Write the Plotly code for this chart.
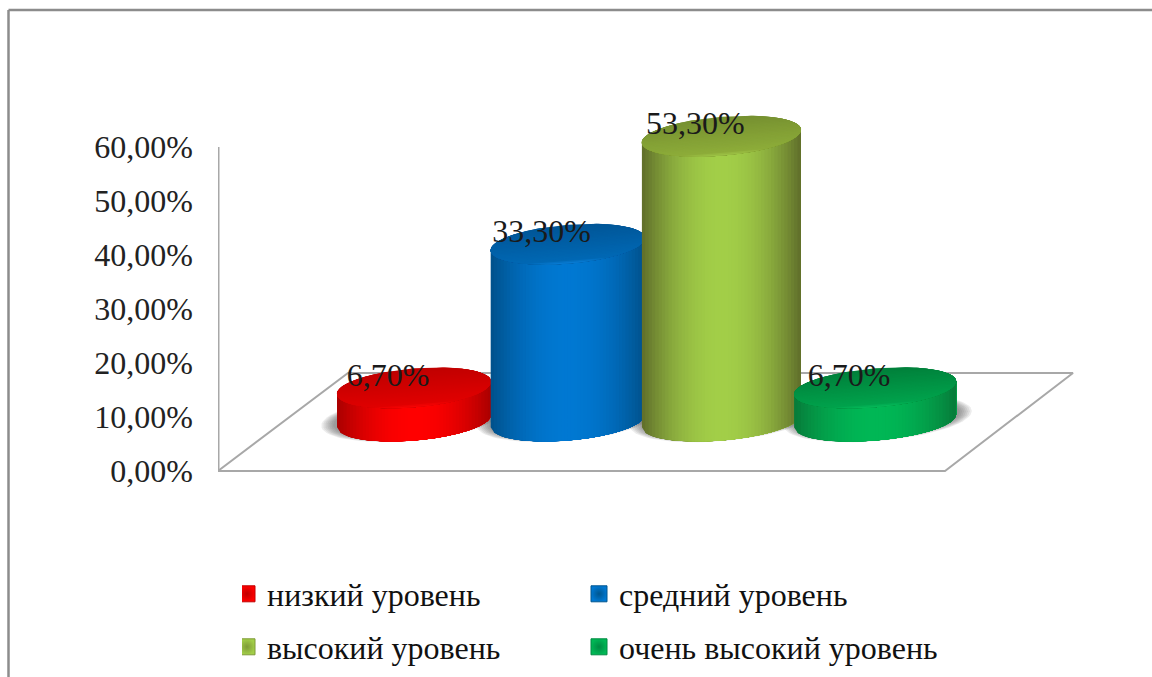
import numpy as np
import plotly.graph_objects as go

# ---- chart data ----
categories = ["низкий уровень", "средний уровень", "высокий уровень", "очень высокий уровень"]
values = [6.7, 33.3, 53.3, 6.7]
value_labels = ["6,70%", "33,30%", "53,30%", "6,70%"]
tick_values = [0, 10, 20, 30, 40, 50, 60]
tick_labels = ["0,00%", "10,00%", "20,00%", "30,00%", "40,00%", "50,00%", "60,00%"]

# ---- styles ----
edge_colors = ["#a80000", "#00508a", "#5f6d2a", "#077a39"]
mid_colors = ["#ff0000", "#0078d2", "#a2ce48", "#00b755"]
cap_dark = ["#bf0000", "#005596", "#758f30", "#007f3a"]
cap_light = ["#e00000", "#0068b4", "#8dac39", "#00a24c"]
cap_rim = ["#fa0505", "#0a7fd8", "#a0c848", "#06bb5a"]

# ---- pseudo-3D geometry ----
W, H = 1152, 677
LEFT = 218
PX = 5.4                       # pixels per percentage point
BASE_PX = 471                  # pixel row of 0 %
DEPTH = 47 / PX                # cap offset behind the front floor edge
BASE_DEPTH = 50 / PX           # base offset behind the front floor edge
CENTER0, STEP = 196, 153.7     # x positions along the floor
HALF = [77, 77, 79.5, 81]      # half width of each cylinder
MINOR = 19.5                   # half height of ellipses, px
TILT = 0.08
AX = "#a8a8a8"


def mix(c1, c2, t):
    a = [int(c1[i:i + 2], 16) for i in (1, 3, 5)]
    b = [int(c2[i:i + 2], 16) for i in (1, 3, 5)]
    return "rgb(%d,%d,%d)" % tuple(round(a[k] + (b[k] - a[k]) * t) for k in range(3))


fig = go.Figure()


def poly(x, y, color):
    fig.add_trace(go.Scatter(x=list(x), y=list(y), mode="lines", fill="toself", fillcolor=color,
                             line=dict(width=0), hoverinfo="skip", showlegend=False))


def ellipse(cx, v, a, b, color):
    t = np.linspace(0, 2 * np.pi, 73)
    dx = a * np.cos(t)
    dy = b * np.sin(t) - TILT * dx
    fig.add_trace(go.Scatter(x=cx + dx, y=v - dy / PX, mode="lines", fill="toself", fillcolor=color,
                             line=dict(width=0), hoverinfo="skip", showlegend=False))


# floor and value axis
floor_x = [0, 727, 855, 130, 0]
floor_v = [0, 0, (BASE_PX - 373) / PX, (BASE_PX - 373) / PX, 0]
fig.add_trace(go.Scatter(x=floor_x, y=floor_v, mode="lines", line=dict(color=AX, width=2),
                         hoverinfo="skip", showlegend=False, cliponaxis=False))
fig.add_trace(go.Scatter(x=[0.5, 0.5], y=[tick_values[0], tick_values[-1]], mode="lines",
                         line=dict(color=AX, width=2), hoverinfo="skip", showlegend=False, cliponaxis=False))

centers = [CENTER0 + i * STEP for i in range(len(values))]

# soft shadows
for cx, a in zip(centers, HALF):
    for k in range(7):
        ellipse(cx + (cx - 426) * 0.012, BASE_DEPTH + 2.5 / PX, a + 13 - 2 * k, MINOR + 3 - 0.5 * k, "rgba(70,70,70,0.10)")

# cylinders: each strip runs to the far edge so later strips paint over it without seams
for i, (cx, val, a) in enumerate(zip(centers, values, HALF)):
    top = val + DEPTH
    edges = np.linspace(-1, 1, 49)
    for u0 in edges[:-1]:
        um = u0 + (edges[1] - edges[0]) / 2
        shade = 1 - min(abs(um), 1) ** 2.0
        us = np.linspace(u0, 1, 41)
        low = MINOR * np.sqrt(np.clip(1 - us ** 2, 0, 1)) - TILT * a * us
        xs = cx + a * us
        poly(np.r_[xs, xs[::-1]], np.r_[top - low / PX, (BASE_DEPTH - low / PX)[::-1]],
             mix(edge_colors[i], mid_colors[i], shade))
    # top cap: bands from far side to near side, each reaching the near rim
    bands = np.linspace(-1, 1, 29)
    for w0, w1 in zip(bands[:-1], bands[1:]):
        wm = (w0 + w1) / 2
        if wm > 0.82:
            col = mix(cap_light[i], cap_rim[i], (wm - 0.82) / 0.18)
        else:
            col = mix(cap_dark[i], cap_light[i], (wm + 1) / 1.82)
        ws = np.linspace(w0, 1, 25)
        r = np.sqrt(np.clip(1 - ws ** 2, 0, 1))
        us = np.r_[-r, r[::-1]]
        ww = np.r_[ws, ws[::-1]]
        poly(cx + a * us, top - (MINOR * ww - TILT * a * us) / PX, col)

# value labels
fig.add_trace(go.Scatter(
    x=[c - 26 for c in centers], y=[v + DEPTH + 1.85 for v in values], mode="text", text=value_labels,
    textposition="middle center", textfont=dict(family="Liberation Serif", size=32, color="#1a1a1a"),
    hoverinfo="skip", showlegend=False, cliponaxis=False))

# legend entries
legend_ids = ["legend", "legend", "legend2", "legend2"]
marker_dark = ["#c00000", "#00568f", "#7f9a38", "#008a42"]
for name, lg, c, dk in zip(categories, legend_ids, mid_colors, marker_dark):
    fig.add_trace(go.Scatter(x=[None], y=[None], mode="markers", name=name, legend=lg,
                             marker=dict(symbol="square", size=16, color=c, line=dict(color=dk, width=1),
                                         gradient=dict(type="radial", color=dk))))

legend_common = dict(orientation="h", xanchor="left", yanchor="middle",
                     x=(257 - 15 - LEFT) / (W - LEFT), font=dict(family="Liberation Serif", size=32, color="#111111"),
                     entrywidth=322, entrywidthmode="pixels", indentation=-15, bgcolor="rgba(0,0,0,0)",
                     itemclick=False, itemdoubleclick=False)

fig.update_layout(
    width=W, height=H, margin=dict(l=LEFT, r=0, t=0, b=0), paper_bgcolor="white", plot_bgcolor="white",
    xaxis=dict(range=[0, W - LEFT], visible=False, fixedrange=True),
    yaxis=dict(range=[-(H - BASE_PX) / PX, BASE_PX / PX], tickvals=tick_values, ticktext=tick_labels,
               showgrid=False, zeroline=False, showline=False, ticks="", ticklabelstandoff=24, fixedrange=True,
               tickfont=dict(family="Liberation Serif", size=32, color="#222222")),
    legend=dict(legend_common, y=1 - 594 / H),
    legend2=dict(legend_common, y=1 - 647 / H),
    shapes=[
        dict(type="line", xref="paper", yref="paper", x0=(8.5 - LEFT) / (W - LEFT), x1=1, y0=1 - 10 / H, y1=1 - 10 / H,
             line=dict(color="#8c8c8c", width=2.5)),
        dict(type="line", xref="paper", yref="paper", x0=(8.5 - LEFT) / (W - LEFT), x1=(8.5 - LEFT) / (W - LEFT),
             y0=1 - 10 / H, y1=0, line=dict(color="#8c8c8c", width=2.5)),
    ],
)

fig.write_html("out.html", post_script="document.body.style.margin='0';", config={"displayModeBar": False})
